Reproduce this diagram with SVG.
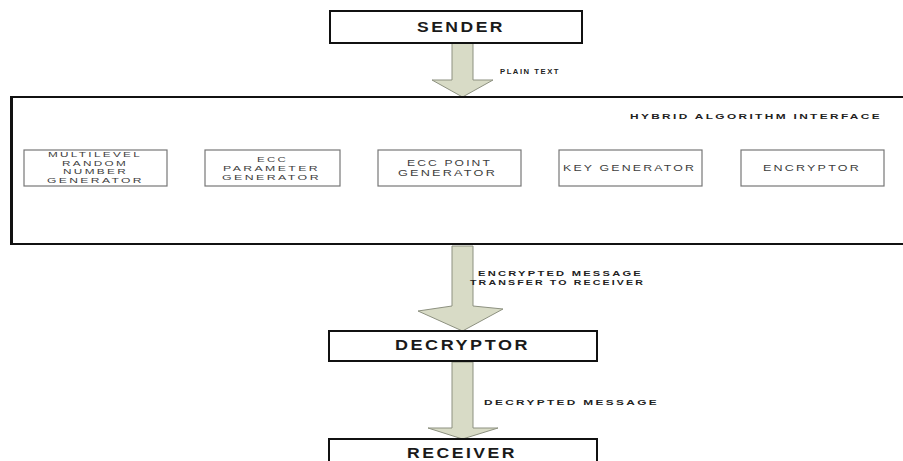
<svg xmlns="http://www.w3.org/2000/svg" width="903" height="461" viewBox="0 0 903 461">
<style>
.bg{fill:#ffffff}
.main{fill:#fff;stroke:#111;stroke-width:2}
.inner{fill:#fff;stroke:#777;stroke-width:1.2}
.arrow{fill:#d8dbc6;stroke:#8d9180;stroke-width:1}
.title{font-family:"Liberation Sans",Arial,sans-serif;font-weight:bold;font-size:14px;letter-spacing:2px;fill:#1a1a1a}
.lbl{font-family:"Liberation Sans",Arial,sans-serif;font-weight:bold;font-size:7.5px;letter-spacing:1.5px;fill:#222}
.box{font-family:"Liberation Sans",Arial,sans-serif;font-size:8.5px;letter-spacing:1.5px;fill:#3d3d3d}
.sm{font-size:7.6px}
</style>
<rect class="bg" x="0" y="0" width="903" height="461"/>

<g id="connectors">
  <polygon class="arrow" points="452,43 473,43 473,80 493,80 462.5,97 432,80 452,80"/>
  <polygon class="arrow" points="167,162 188,162 188,153 205,167.5 188,181 188,173 167,173"/>
  <polygon class="arrow" points="340,162 360,162 360,153 378,167.5 360,181 360,173 340,173"/>
  <polygon class="arrow" points="521,162 542,162 542,153 559,167.5 542,181 542,173 521,173"/>
  <polygon class="arrow" points="702,162 723,162 723,153 741,167.5 723,181 723,173 702,173"/>
  <polygon class="arrow" points="452,246 473,246 473,306 503,309 462.5,331 418,311 452,306"/>
  <polygon class="arrow" points="452,362 473,362 473,428 498,428 462.5,439 428,428 452,428"/>
  <text class="lbl" x="500" y="73.5" textLength="60" lengthAdjust="spacingAndGlyphs">PLAIN TEXT</text>
  <text class="lbl" x="478" y="275.5" textLength="165" lengthAdjust="spacingAndGlyphs">ENCRYPTED MESSAGE</text>
  <text class="lbl" x="470" y="284.5" textLength="175" lengthAdjust="spacingAndGlyphs">TRANSFER TO RECEIVER</text>
  <text class="lbl" x="484" y="404.5" textLength="175" lengthAdjust="spacingAndGlyphs">DECRYPTED MESSAGE</text>
</g>

<g id="sender">
  <rect class="main" x="330" y="11" width="252" height="32"/>
  <text class="title" x="417" y="31.5" textLength="88" lengthAdjust="spacingAndGlyphs">SENDER</text>
</g>

<g id="hybrid">
  <path d="M905,97 L11,97 L11,244 L905,244" fill="#fff" stroke="#111" stroke-width="2"/>
  <line x1="11.5" y1="97" x2="11.5" y2="245" stroke="#111" stroke-width="3"/>
  <text class="lbl" x="630" y="119" font-size="8px" textLength="252" lengthAdjust="spacingAndGlyphs">HYBRID ALGORITHM INTERFACE</text>
</g>

<g id="mrng">
  <rect class="inner" x="24" y="150" width="143" height="36"/>
  <text class="box sm" x="48" y="157" textLength="94" lengthAdjust="spacingAndGlyphs">MULTILEVEL</text>
  <text class="box sm" x="62" y="165.5" textLength="66" lengthAdjust="spacingAndGlyphs">RANDOM</text>
  <text class="box sm" x="63" y="174" textLength="65" lengthAdjust="spacingAndGlyphs">NUMBER</text>
  <text class="box sm" x="47" y="182.5" textLength="97" lengthAdjust="spacingAndGlyphs">GENERATOR</text>
</g>

<g id="eccparam">
  <rect class="inner" x="205" y="150" width="135" height="36"/>
  <text class="box sm" x="257" y="162" textLength="31" lengthAdjust="spacingAndGlyphs">ECC</text>
  <text class="box sm" x="223" y="171" textLength="97" lengthAdjust="spacingAndGlyphs">PARAMETER</text>
  <text class="box sm" x="222" y="179.5" textLength="99" lengthAdjust="spacingAndGlyphs">GENERATOR</text>
</g>

<g id="eccpoint">
  <rect class="inner" x="378" y="150" width="143" height="36"/>
  <text class="box" x="407" y="166.2" textLength="85" lengthAdjust="spacingAndGlyphs">ECC POINT</text>
  <text class="box" x="398" y="175.5" textLength="99" lengthAdjust="spacingAndGlyphs">GENERATOR</text>
</g>

<g id="keygen">
  <rect class="inner" x="559" y="150" width="143" height="36"/>
  <text class="box" x="563" y="170.5" textLength="133" lengthAdjust="spacingAndGlyphs">KEY GENERATOR</text>
</g>

<g id="encryptor">
  <rect class="inner" x="741" y="150" width="143" height="36"/>
  <text class="box" x="763" y="170.5" textLength="98" lengthAdjust="spacingAndGlyphs">ENCRYPTOR</text>
</g>

<g id="decryptor">
  <rect class="main" x="329" y="331" width="268" height="30"/>
  <text class="title" x="395" y="349.5" textLength="135" lengthAdjust="spacingAndGlyphs">DECRYPTOR</text>
</g>

<g id="receiver">
  <rect class="main" x="329" y="439" width="268" height="30"/>
  <text class="title" x="407" y="457.5" textLength="110" lengthAdjust="spacingAndGlyphs">RECEIVER</text>
</g>
</svg>
